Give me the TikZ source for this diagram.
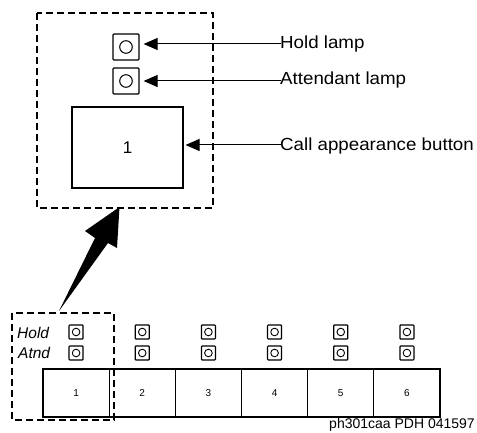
\documentclass[tikz,border=0pt]{standalone}
\usepackage{fontspec}
\setmainfont{Liberation Sans}
\newfontfamily\lblfont[FakeStretch=1.07]{Liberation Sans}
\usetikzlibrary{arrows.meta}
\tikzset{
  dashbox/.style={draw, line width=2pt, dash pattern=on 7pt off 4pt},
  biglamp/.style={draw, line width=1.2pt, minimum size=26pt, inner sep=0pt, rounded corners=1pt},
  smalllamp/.style={draw, line width=1.2pt, minimum size=14pt, inner sep=0pt, rounded corners=0.8pt},
  bigbutton/.style={draw, line width=1.1pt, minimum width=111pt, minimum height=81pt, inner sep=0pt, font=\fontsize{17}{20}\selectfont},
  rowbutton/.style={draw, line width=1.1pt, minimum width=66.17pt, minimum height=48pt, inner sep=0pt, font=\fontsize{10}{12}\selectfont},
  callout/.style={anchor=west, inner sep=0pt, font=\lblfont\fontsize{17.5}{20}\selectfont},
  sidelbl/.style={anchor=west, inner sep=0pt, font=\itshape\fontsize{15.5}{18}\selectfont},
  pointer/.style={draw, line width=1pt, -{Triangle[length=14pt, width=12pt]}},
}
\begin{document}
\begin{tikzpicture}[x=1pt, y=-1pt]
\useasboundingbox (0,0) rectangle (477,433);
% top enlarged view
\draw[dashbox] (37,13) rectangle (213,208);
\node[biglamp] (hl) at (126,47) {};
\draw[line width=1pt] (hl.center) circle (6.3);
\node[biglamp] (al) at (126,81) {};
\draw[line width=1pt] (al.center) circle (6.3);
\node[bigbutton] (cb) at (127.5,147.5) {1};
\node[callout] (thl) at (280,44) {Hold lamp};
\node[callout] (tal) at (280,80) {Attendant lamp};
\node[callout] (tcb) at (280,146) {Call appearance button};
\coordinate (phl) at (281,44);
\coordinate (pal) at (281,81);
\coordinate (pcb) at (281,145);
\draw[pointer, shorten >=4pt] (phl) -- (phl -| hl.east);
\draw[pointer, shorten >=4pt] (pal) -- (pal -| al.east);
\draw[pointer, shorten >=2pt] (pcb) -- (pcb -| cb.east);
% big arrow
\fill (59,311) -- (95,238) -- (85,231) -- (119.5,207) -- (117,248) -- (108,243) -- cycle;
% bottom row
\foreach \i in {1,...,6} {
  \node[rowbutton] (b\i) at ({43+66.17*(\i-0.5)},393) {\i};
  \node[smalllamp] (h\i) at ({43+66.17*(\i-0.5)},332) {};
  \draw[line width=0.9pt] (h\i.center) circle (3.8);
  \node[smalllamp] (a\i) at ({43+66.17*(\i-0.5)},353) {};
  \draw[line width=0.9pt] (a\i.center) circle (3.8);
}
\node[sidelbl] (th) at (17,333) {Hold};
\node[sidelbl] (ta) at (18,353) {Atnd};
\draw[dashbox] (12,313) rectangle (114,420);
\node[anchor=east, inner sep=0pt, font=\fontsize{14}{16}\selectfont] (cap) at (475,425) {ph301caa PDH 041597};
\end{tikzpicture}
\end{document}
